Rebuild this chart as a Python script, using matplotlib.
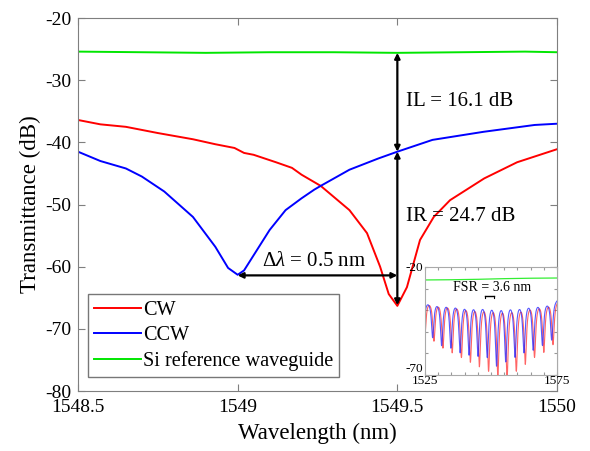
import numpy as np
import matplotlib.pyplot as plt

plt.rcParams['font.family'] = ['Liberation Serif', 'DejaVu Serif']
plt.rcParams['mathtext.fontset'] = 'custom'
plt.rcParams['mathtext.rm'] = 'Liberation Serif'
plt.rcParams['mathtext.it'] = 'Liberation Serif:italic'
plt.rcParams['axes.unicode_minus'] = False

# --- main spectra ---
cw_wl = [1548.50, 1548.57, 1548.65, 1548.75, 1548.86, 1548.93, 1548.99, 1549.02,
         1549.05, 1549.12, 1549.17, 1549.20, 1549.24, 1549.26, 1549.35, 1549.405,
         1549.446, 1549.473, 1549.50, 1549.53, 1549.571, 1549.614, 1549.665,
         1549.772, 1549.875, 1550.00]
cw_db = [-36.4, -37.1, -37.5, -38.5, -39.5, -40.3, -40.9, -41.7,
         -42.0, -43.2, -44.1, -45.2, -46.4, -47.0, -50.9, -54.6,
         -60.0, -64.4, -66.3, -63.3, -55.7, -52.0, -49.3,
         -45.8, -43.2, -41.1]

ccw_wl = [1548.50, 1548.57, 1548.65, 1548.70, 1548.77, 1548.86, 1548.93, 1548.97,
          1549.00, 1549.02, 1549.10, 1549.15, 1549.20, 1549.24, 1549.26, 1549.35,
          1549.44, 1549.50, 1549.61, 1549.77, 1549.93, 1550.00]
ccw_db = [-41.5, -43.0, -44.2, -45.5, -47.9, -52.0, -56.8, -60.2,
          -61.3, -60.6, -54.1, -50.9, -49.0, -47.6, -47.0, -44.4,
          -42.6, -41.5, -39.6, -38.3, -37.2, -37.0]

si_wl = [1548.5, 1548.7, 1548.9, 1549.1, 1549.3, 1549.5, 1549.7, 1549.9, 1550.0]
si_db = [-25.4, -25.5, -25.6, -25.5, -25.5, -25.6, -25.5, -25.4, -25.5]

# --- inset: broad sweep, dip centres / depths ---
inset_ccw_dips = [1524.4, 1527.9, 1531.3, 1534.8, 1538.3, 1541.7, 1545.1, 1548.6,
                  1552.1, 1555.6, 1559.1, 1562.5, 1566.0, 1569.5, 1573.0]
inset_ccw_depth = [-50, -51.5, -55, -56, -58, -59, -59.5, -60,
                   -64, -62, -60, -58, -57, -55, -53]
inset_cw_dips = [d + 0.5 for d in inset_ccw_dips]
inset_cw_depth = [-52, -53, -56, -58, -60, -62, -64, -66,
                  -68, -69, -66, -63, -60, -58, -55]
inset_peak = -34.0
inset_si_wl = [1525, 1535, 1545, 1555, 1565, 1575]
inset_si_db = [-26.0, -25.9, -25.7, -25.4, -25.2, -25.1]

fig = plt.figure(figsize=(5.9, 4.51), dpi=100)
ax = fig.add_axes([0.1322, 0.1330, 0.8119, 0.8270])

ax.plot(cw_wl, cw_db, color='#ff0000', lw=1.4, label='CW')
ax.plot(ccw_wl, ccw_db, color='#0000ff', lw=1.4, label='CCW')
ax.plot(si_wl, si_db, color='#00e600', lw=1.4, label='Si reference waveguide')

ax.set_xlim(1548.5, 1550)
ax.set_ylim(-80, -20)
ax.set_xticks([1548.5, 1549, 1549.5, 1550])
ax.set_xticklabels(['1548.5', '1549', '1549.5', '1550'])
ax.set_yticks(np.arange(-80, -19, 10))
ax.tick_params(direction='in', length=5, top=True, right=True,
               labelsize=14, color='#7f7f7f')
ax.tick_params(axis='x', pad=6)
ax.tick_params(axis='y', pad=5)
for s in ax.spines.values():
    s.set_color('#7f7f7f')
ax.set_xlabel('Wavelength (nm)', fontsize=16.5, labelpad=5)
ax.set_ylabel('Transmittance (dB)', fontsize=16.5, labelpad=3)

# annotations
arr = dict(arrowstyle='<|-|>', color='black', lw=1.6, mutation_scale=8,
           shrinkA=0, shrinkB=0)
ax.annotate('', xy=(1549.5, si_db[5]), xytext=(1549.5, -41.5), arrowprops=arr)
ax.annotate('', xy=(1549.5, -41.5), xytext=(1549.5, -66.2), arrowprops=arr)
ax.annotate('', xy=(1549.0, -61.4), xytext=(1549.5, -61.4), arrowprops=arr)
ax.text(1549.527, -33.5, 'IL = 16.1 dB', fontsize=15, va='center', ha='left')
ax.text(1549.527, -52.0, 'IR = 24.7 dB', fontsize=15, va='center', ha='left')
ax.text(1549.076, -59.2, r'$\mathit{\Delta\lambda}$ = 0.5 nm', fontsize=15,
        va='center', ha='left')

leg = ax.legend(loc='lower left', bbox_to_anchor=(0.021, 0.0375), borderaxespad=0,
                fontsize=14.6, frameon=True, fancybox=False, handlelength=2.3,
                handletextpad=0.1, labelspacing=0.3, borderpad=0.3)
leg.get_frame().set_edgecolor('#555555')
leg.get_frame().set_linewidth(1.0)

# inset
ins = fig.add_axes([0.7203, 0.1685, 0.2237, 0.2395])
wl = np.linspace(1525, 1575, 6001)
w = 0.55


def comb(dips, depths):
    out = np.full_like(wl, inset_peak)
    for c, d in zip(dips, depths):
        out += (d - inset_peak) * w**2 / ((wl - c)**2 + w**2)
    return out


ins.plot(wl, comb(inset_cw_dips, inset_cw_depth), color='#ff3030', lw=0.8, alpha=0.75)
ins.plot(wl, comb(inset_ccw_dips, inset_ccw_depth), color='#2020ff', lw=0.8, alpha=0.75)
ins.plot(inset_si_wl, inset_si_db, color='#33ee33', lw=0.9)
ins.set_xlim(1525, 1575)
ins.set_ylim(-70, -20)
ins.set_xticks(np.arange(1525, 1576, 5))
ins.set_xticklabels(['1525'] + [''] * 9 + ['1575'])
ins.set_yticks(np.arange(-70, -19, 10))
ins.set_yticklabels(['-70', '', '', '', '', '-20'])
ins.tick_params(direction='in', length=2, top=True, right=True, labelsize=9.5,
                color='#999999', pad=1)
ins.tick_params(axis='x', pad=0)
ins.get_yticklabels()[0].set_va('bottom')
for s in ins.spines.values():
    s.set_color('#aaaaaa')
ins.text(1550.5, -29.5, 'FSR = 3.6 nm', fontsize=10, ha='center', va='center')
ins.plot([1547.7, 1551.1], [-33.3, -33.3], color='black', lw=1)
ins.plot([1547.7, 1547.7], [-33.3, -34.3], color='black', lw=0.8)
ins.plot([1551.1, 1551.1], [-33.3, -34.3], color='black', lw=0.8)

fig.savefig('out.png', dpi=100)
